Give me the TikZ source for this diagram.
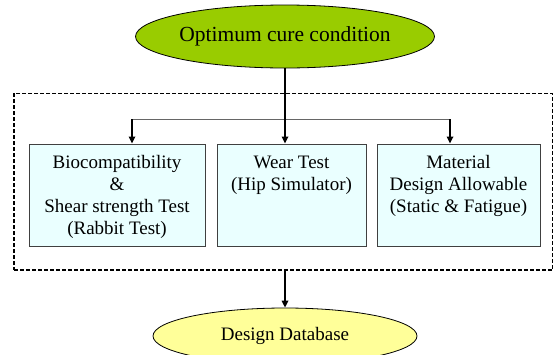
\documentclass[tikz,border=0pt]{standalone}
\usepackage{fontspec}
\IfFontExistsTF{LiberationSerif-Regular.ttf}{\newfontfamily\tnrfont{LiberationSerif-Regular.ttf}}{\newfontfamily\tnrfont{Liberation Serif}}
\usetikzlibrary{shapes.geometric,arrows.meta}
\definecolor{topgreen}{HTML}{99CC00}
\definecolor{dbyellow}{HTML}{FFFF99}
\definecolor{boxcyan}{HTML}{EAFFFF}
\definecolor{boxedge}{HTML}{404040}
\tikzset{
  oval/.style={ellipse, draw=black, line width=0.8pt, inner sep=0pt},
  testbox/.style={rectangle, draw=boxedge, fill=boxcyan, line width=1pt, inner sep=0pt},
  boxtext/.style={anchor=north, inner sep=0pt, align=center, font=\tnrfont\fontsize{19}{22}\selectfont},
  frame/.style={rectangle, draw=black, line width=1.3pt, dash pattern=on 4pt off 2pt, inner sep=0pt},
  arr/.style={draw=black, line width=1.6pt, -{Triangle[length=7pt,width=6.5pt]}},
  branch/.style={draw=gray!80!black, line width=1pt}
}
\begin{document}
\begin{tikzpicture}[x=1pt,y=-1pt]
\useasboundingbox (0,0) rectangle (556,354);
\node[frame, minimum width=538.7pt, minimum height=176.7pt] (frame) at (283.3,181.6) {};
\node[oval, fill=topgreen, minimum width=290pt, minimum height=63pt, font=\tnrfont\fontsize{21.5}{24}\selectfont] (top) at (285,36.5) {Optimum cure condition};
\node[oval, fill=dbyellow, minimum width=264pt, minimum height=56pt, font=\tnrfont\fontsize{19}{22}\selectfont] (db) at (285,336) {Design Database};
\node[testbox, minimum width=176pt, minimum height=102pt] (bio) at (117,195) {};
\node[testbox, minimum width=149pt, minimum height=102pt] (wear) at (291.5,195) {};
\node[testbox, minimum width=163pt, minimum height=102pt] (mat) at (458.5,195) {};
\node[boxtext] (biot) at ([yshift=-12pt]bio.north) {Biocompatibility\\\&\\Shear strength Test\\(Rabbit Test)};
\node[boxtext] (weart) at ([yshift=-12pt]wear.north) {Wear Test\\(Hip Simulator)};
\node[boxtext] (matt) at ([yshift=-12pt]mat.north) {Material\\Design Allowable\\(Static \& Fatigue)};
\coordinate (jl) at (132,119);
\coordinate (jr) at (450,119);
\draw[branch] (jl) -- (jr);
\draw[arr] (jl) -- (jl |- bio.north);
\draw[arr] (jr) -- (jr |- mat.north);
\draw[arr] (top.south) -- (top.south |- wear.north);
\draw[arr] (db.north |- frame.south) -- (db.north);
\end{tikzpicture}
\end{document}
